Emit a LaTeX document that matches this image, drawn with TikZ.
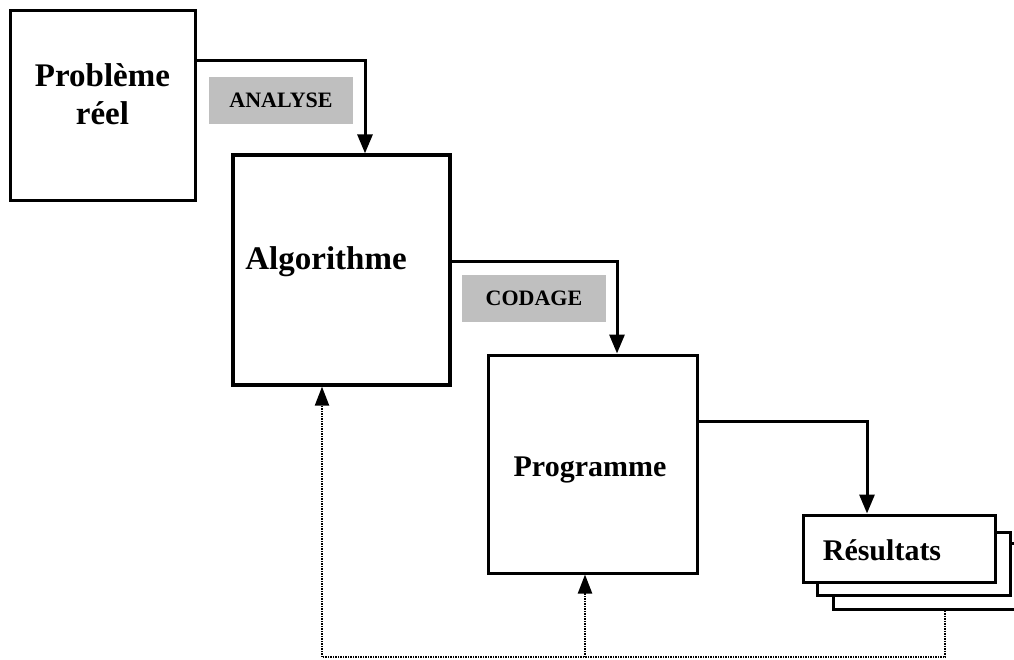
\documentclass[tikz,border=0pt]{standalone}
\usepackage{fontspec}
\setmainfont{Liberation Serif}
\usetikzlibrary{arrows.meta}
\begin{document}
\begin{tikzpicture}[x=1pt,y=-1pt,
	box/.style={draw,line width=3pt,fill=white,inner sep=0pt},
	big/.style={font=\bfseries\fontsize{33}{38}\selectfont,align=center},
	mid/.style={font=\bfseries\fontsize{30}{36}\selectfont},
	tag/.style={fill=black!25,minimum width=144pt,minimum height=47pt,inner sep=0pt,font=\bfseries\fontsize{22}{24}\selectfont},
	flow/.style={line width=3pt,-{Triangle[width=15pt,length=19pt]}},
	back/.style={line width=2.2pt,dash pattern=on 1.5pt off 1pt},
	backarrow/.style={back,-{Triangle[width=14pt,length=19pt]}}]
\useasboundingbox (0,0) rectangle (1014,659);
\node[box,minimum width=185pt,minimum height=190pt] (prob) at (102.5,105) {};
\node[big] (probtext) at (102.5,94) {Problème\\réel};
\node[box,line width=3.3pt,minimum width=217pt,minimum height=230pt] (algo) at (341.5,270) {};
\node[big] (algotext) at (326,262) {Algorithme};
\node[box,minimum width=209pt,minimum height=218pt] (prog) at (592.5,464) {};
\node[mid] (progtext) at (590,470) {Programme};
\node[box,minimum width=200pt,minimum height=66pt] (res3) at (933,576) {};
\node[box,minimum width=193pt,minimum height=63pt] (res2) at (913.5,563.5) {};
\node[box,minimum width=192pt,minimum height=67pt] (res1) at (899,548.5) {};
\node[mid] (restext) at (882,550) {Résultats};
\node[tag] (analyse) at (281,100.5) {ANALYSE};
\node[tag] (codage) at (534,298.5) {CODAGE};
\coordinate (k1) at (365,60);
\coordinate (k2) at (617,261);
\coordinate (k3) at (867,421);
\coordinate (c1) at (322,657);
\coordinate (c2) at (585,657);
\coordinate (c3) at (945,657);
\draw[flow] (prob.east |- k1) -| (algo.north -| k1);
\draw[flow] (algo.east |- k2) -| (prog.north -| k2);
\draw[flow] (prog.east |- k3) -| (res1.north -| k3);
\draw[back] (res3.south -| c3) -- (c3) -- (c1);
\draw[backarrow] (c1) -- (algo.south -| c1);
\draw[backarrow] (c2) -- (prog.south -| c2);
\end{tikzpicture}
\end{document}
